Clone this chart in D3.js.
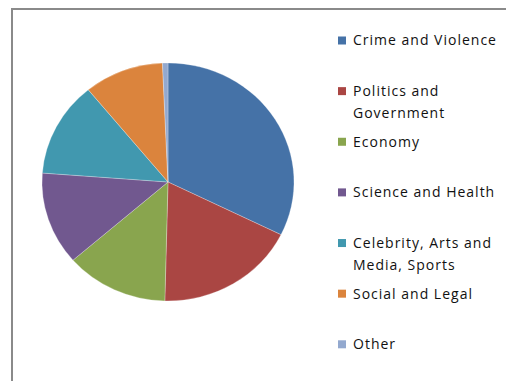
<!DOCTYPE html>
<html>
<head>
<meta charset="utf-8">
<script src="https://cdn.jsdelivr.net/npm/d3@7"></script>
<style>
  html, body { margin: 0; padding: 0; background: #fff; }
  svg { display: block; }
  .legend text { font-family: "Open Sans", sans-serif; font-size: 14px; letter-spacing: 1px; fill: #111; }
</style>
</head>
<body>
<svg id="chart" width="506" height="381"></svg>
<script>
// Share of news stories by topic (percent)
const categories = [
  "Crime and Violence",
  "Politics and Government",
  "Economy",
  "Science and Health",
  "Celebrity, Arts and Media, Sports",
  "Social and Legal",
  "Other"
];
const legendLines = [
  ["Crime and Violence"],
  ["Politics and", "Government"],
  ["Economy"],
  ["Science and Health"],
  ["Celebrity, Arts and", "Media, Sports"],
  ["Social and Legal"],
  ["Other"]
];
const values = [32.3, 18.1, 13.2, 12.6, 12.9, 10.2, 0.7];
const colors = ["#4572A7", "#AA4643", "#89A54E", "#71588F", "#4198AF", "#DB843D", "#93A9CF"];

const svg = d3.select("#chart");
const W = 506, H = 381;

// chart frame (runs off the right and bottom edges)
svg.append("path")
  .attr("d", `M12,${H + 5} L12,9 L${W + 5},9`)
  .attr("fill", "none")
  .attr("stroke", "#8a8a8a")
  .attr("stroke-width", 2);

const data = categories.map((c, i) => ({ name: c, value: values[i], color: colors[i], lines: legendLines[i] }));

const pie = d3.pie().sort(null).value(d => d.value);
const rx = 126, ry = 119;
const arc = d3.arc().innerRadius(0).outerRadius(rx);

const g = svg.append("g")
  .attr("transform", `translate(168,182) scale(1,${ry / rx})`);

g.selectAll("path")
  .data(pie(data))
  .join("path")
  .attr("d", arc)
  .attr("fill", d => d.data.color)
  .attr("stroke", "rgba(255,255,255,0.45)")
  .attr("stroke-width", 0.6);

// legend
const y = d3.scaleLinear().domain([0, categories.length - 1]).range([40.5, 344.3]);
const lg = svg.append("g").attr("class", "legend");
const item = lg.selectAll("g")
  .data(data)
  .join("g")
  .attr("transform", (d, i) => `translate(338,${y(i)})`);

item.append("rect")
  .attr("x", 0).attr("y", -4)
  .attr("width", 8).attr("height", 8)
  .attr("fill", d => d.color);

item.append("text")
  .attr("x", 15)
  .selectAll("tspan")
  .data(d => d.lines)
  .join("tspan")
  .attr("x", 15)
  .attr("y", (d, j) => j * 22.4)
  .attr("dy", "0.35em")
  .text(d => d);
</script>
</body>
</html>
